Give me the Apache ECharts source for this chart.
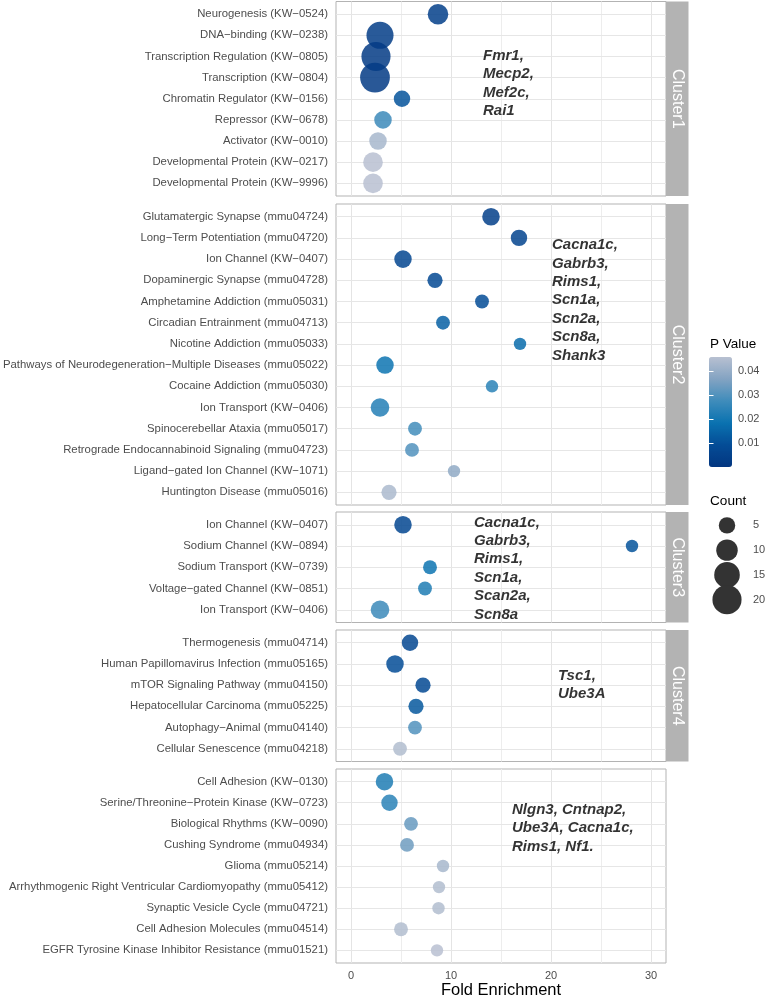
<!DOCTYPE html>
<html>
<head>
<meta charset="utf-8">
<script src="https://cdn.jsdelivr.net/npm/echarts@6/dist/echarts.min.js"></script>
<style>html,body{margin:0;padding:0;background:#fff}#chart{width:765px;height:996px}</style>
</head>
<body>
<div id="chart"></div>
<script>
// ---------------- DATA ----------------
const cluster1Terms = ['Neurogenesis (KW−0524)', 'DNA−binding (KW−0238)', 'Transcription Regulation (KW−0805)', 'Transcription (KW−0804)', 'Chromatin Regulator (KW−0156)', 'Repressor (KW−0678)', 'Activator (KW−0010)', 'Developmental Protein (KW−0217)', 'Developmental Protein (KW−9996)'];
const cluster1Fold  = [8.7, 2.9, 2.5, 2.4, 5.1, 3.2, 2.7, 2.2, 2.2];
const cluster1Count = [9, 17, 20, 21, 5, 6, 6, 8, 8];
const cluster1P     = [0.004, 0.003, 0.002, 0.002, 0.011, 0.027, 0.043, 0.046, 0.046];
const cluster1Genes = 'Fmr1,\nMecp2,\nMef2c,\nRai1';

const cluster2Terms = ['Glutamatergic Synapse (mmu04724)', 'Long−Term Potentiation (mmu04720)', 'Ion Channel (KW−0407)', 'Dopaminergic Synapse (mmu04728)', 'Amphetamine Addiction (mmu05031)', 'Circadian Entrainment (mmu04713)', 'Nicotine Addiction (mmu05033)', 'Pathways of Neurodegeneration−Multiple Diseases (mmu05022)', 'Cocaine Addiction (mmu05030)', 'Ion Transport (KW−0406)', 'Spinocerebellar Ataxia (mmu05017)', 'Retrograde Endocannabinoid Signaling (mmu04723)', 'Ligand−gated Ion Channel (KW−1071)', 'Huntington Disease (mmu05016)'];
const cluster2Fold  = [14.0, 16.8, 5.2, 8.4, 13.1, 9.2, 16.9, 3.4, 14.1, 2.9, 6.4, 6.1, 10.3, 3.8];
const cluster2Count = [6, 5, 6, 4, 3, 3, 2, 6, 2, 7, 3, 3, 2, 4];
const cluster2P     = [0.004, 0.006, 0.007, 0.008, 0.009, 0.014, 0.017, 0.019, 0.024, 0.023, 0.028, 0.030, 0.039, 0.044];
const cluster2Genes = 'Cacna1c,\nGabrb3,\nRims1,\nScn1a,\nScn2a,\nScn8a,\nShank3';

const cluster3Terms = ['Ion Channel (KW−0407)', 'Sodium Channel (KW−0894)', 'Sodium Transport (KW−0739)', 'Voltage−gated Channel (KW−0851)', 'Ion Transport (KW−0406)'];
const cluster3Fold  = [5.2, 28.1, 7.9, 7.4, 2.9];
const cluster3Count = [6, 2, 3, 3, 7];
const cluster3P     = [0.007, 0.011, 0.019, 0.022, 0.027];
const cluster3Genes = 'Cacna1c,\nGabrb3,\nRims1,\nScn1a,\nScan2a,\nScn8a';

const cluster4Terms = ['Thermogenesis (mmu04714)', 'Human Papillomavirus Infection (mmu05165)', 'mTOR Signaling Pathway (mmu04150)', 'Hepatocellular Carcinoma (mmu05225)', 'Autophagy−Animal (mmu04140)', 'Cellular Senescence (mmu04218)'];
const cluster4Fold  = [5.9, 4.4, 7.2, 6.5, 6.4, 4.9];
const cluster4Count = [5, 6, 4, 4, 3, 3];
const cluster4P     = [0.007, 0.009, 0.008, 0.012, 0.030, 0.045];
const cluster4Genes = 'Tsc1,\nUbe3A';

const cluster5Terms = ['Cell Adhesion (KW−0130)', 'Serine/Threonine−Protein Kinase (KW−0723)', 'Biological Rhythms (KW−0090)', 'Cushing Syndrome (mmu04934)', 'Glioma (mmu05214)', 'Arrhythmogenic Right Ventricular Cardiomyopathy (mmu05412)', 'Synaptic Vesicle Cycle (mmu04721)', 'Cell Adhesion Molecules (mmu04514)', 'EGFR Tyrosine Kinase Inhibitor Resistance (mmu01521)'];
const cluster5Fold  = [3.35, 3.85, 6.0, 5.6, 9.2, 8.8, 8.75, 5.0, 8.6];
const cluster5Count = [6, 5, 3, 3, 2, 2, 2, 3, 2];
const cluster5P     = [0.022, 0.024, 0.033, 0.034, 0.043, 0.045, 0.045, 0.045, 0.046];
const cluster5Genes = 'Nlgn3, Cntnap2,\nUbe3A, Cacna1c,\nRims1, Nf1.';

const stripLabels  = ['Cluster1', 'Cluster2', 'Cluster3', 'Cluster4', ''];
const xTickValues  = [0, 10, 20, 30];
const xGridValues  = [0, 5, 10, 15, 20, 25, 30];
const pTickValues  = [0.01, 0.02, 0.03, 0.04];
const countLegend  = [5, 10, 15, 20];
const xTitle = 'Fold Enrichment';
const pTitle = 'P Value';
const countTitle = 'Count';

// ---------------- LAYOUT / STYLE ----------------
const FONT = "'Liberation Sans', Arial, Helvetica, sans-serif";
const panels = [
  {terms: cluster1Terms, fold: cluster1Fold, count: cluster1Count, p: cluster1P, genes: cluster1Genes},
  {terms: cluster2Terms, fold: cluster2Fold, count: cluster2Count, p: cluster2P, genes: cluster2Genes},
  {terms: cluster3Terms, fold: cluster3Fold, count: cluster3Count, p: cluster3P, genes: cluster3Genes},
  {terms: cluster4Terms, fold: cluster4Fold, count: cluster4Count, p: cluster4P, genes: cluster4Genes},
  {terms: cluster5Terms, fold: cluster5Fold, count: cluster5Count, p: cluster5P, genes: cluster5Genes}
];
const L = { left: 336, width: 330, tops: [1.5, 204, 512, 630, 769], heights: [194.5, 301, 110.5, 131.5, 194], stripW: 22.5 };
const notePos = [[13.2, 3.27], [20.1, 3.94], [12.3, 2.06], [20.7, 2.0], [16.1, 2.2]];
const sizeOf = c => Math.sqrt(77 + 38.5 * c);
const GRID_COLOR = '#B3B3B3';

const grid = [], xAxis = [], yAxis = [], series = [], graphic = [];
panels.forEach((pn, k) => {
  const n = pn.terms.length;
  const idx = pn.terms.map((_, i) => i);
  const last = k === panels.length - 1;
  grid.push({left: L.left, top: L.tops[k], width: L.width, height: L.heights[k], show: true,
    outerBoundsMode: 'none', containLabel: false,
    borderColor: GRID_COLOR, borderWidth: 1, backgroundColor: '#fff'});
  xAxis.push({gridIndex: k, type: 'value', min: -1.5, max: 31.5,
    axisLine: {show: false}, splitLine: {show: false},
    axisTick: {show: last, customValues: xTickValues, length: 4, lineStyle: {color: GRID_COLOR}},
    axisLabel: {show: last, customValues: xTickValues, color: '#4D4D4D', fontSize: 11, margin: 7, fontFamily: FONT},
    name: last ? xTitle : '', nameLocation: 'middle', nameGap: 18,
    nameTextStyle: {fontSize: 16.5, color: '#000', fontFamily: FONT}});
  yAxis.push({gridIndex: k, type: 'value', inverse: true, min: -0.6, max: n - 0.4,
    axisLine: {show: false}, splitLine: {show: false},
    axisTick: {show: true, customValues: idx, length: 4, lineStyle: {color: GRID_COLOR}},
    axisLabel: {customValues: idx, formatter: v => pn.terms[Math.round(v)], color: '#4D4D4D',
      fontSize: 11.35, fontFamily: FONT, margin: 8}});
});
// colorbar grid (5) and count legend grid (6)
grid.push({left: 709, top: 357, width: 23, height: 110, show: false, outerBoundsMode: 'none', containLabel: false});
grid.push({left: 708, top: 513, width: 38, height: 99, show: false, outerBoundsMode: 'none', containLabel: false});
xAxis.push({gridIndex: 5, type: 'value', min: 0, max: 1, show: false});
xAxis.push({gridIndex: 6, type: 'value', min: 0, max: 1, show: false});
yAxis.push({gridIndex: 5, type: 'value', position: 'right', min: 0, max: 0.046, z: 10,
  axisLine: {show: false}, splitLine: {show: false},
  axisTick: {inside: true, length: 4.5, customValues: pTickValues, lineStyle: {color: '#fff', width: 1}},
  axisLabel: {customValues: pTickValues, color: '#4D4D4D', fontSize: 11, margin: 6, fontFamily: FONT, formatter: v => v.toFixed(2)}});
yAxis.push({gridIndex: 5, type: 'value', position: 'left', min: 0, max: 0.046, z: 10,
  axisLine: {show: false}, splitLine: {show: false},
  axisTick: {inside: true, length: 4.5, customValues: pTickValues, lineStyle: {color: '#fff', width: 1}},
  axisLabel: {show: false}});
yAxis.push({gridIndex: 6, type: 'category', inverse: true, position: 'right', data: countLegend.map(String),
  axisLine: {show: false}, axisTick: {show: false}, splitLine: {show: false},
  axisLabel: {color: '#4D4D4D', fontSize: 11, margin: 7, fontFamily: FONT}});

// data series
panels.forEach((pn, k) => {
  const idx = pn.terms.map((_, i) => i);
  series.push({type: 'scatter', xAxisIndex: k, yAxisIndex: k, z: 3,
    data: pn.terms.map((t, i) => [pn.fold[i], i, pn.count[i], pn.p[i], t]),
    symbolSize: d => sizeOf(d[2]),
    itemStyle: {opacity: 0.85},
    emphasis: {disabled: true},
    markLine: {silent: true, symbol: 'none', z: 1, animation: false, label: {show: false},
      emphasis: {disabled: true},
      lineStyle: {color: '#E6E6E6', width: 1, type: 'solid'},
      data: xGridValues.map(v => ({xAxis: v, lineStyle: {color: v % 10 === 0 ? '#E4E4E4' : '#EDEDED', width: 1, type: 'solid'}}))
        .concat(idx.map(i => ({yAxis: i})))}
  });
});
panels.forEach((pn, k) => {
  series.push({type: 'scatter', xAxisIndex: k, yAxisIndex: k, z: 4, silent: true,
    data: [notePos[k]], symbolSize: 0.01, itemStyle: {color: 'rgba(0,0,0,0)'},
    label: {show: true, position: 'right', distance: 0, formatter: pn.genes,
      fontSize: 15, fontWeight: 'bold', fontStyle: 'italic', color: '#000', lineHeight: 18.4, fontFamily: FONT}});
});
series.push({type: 'scatter', xAxisIndex: 5, yAxisIndex: 5, data: []});
series.push({type: 'scatter', xAxisIndex: 6, yAxisIndex: 7, silent: true,
  data: countLegend.map(c => [0.5, String(c), c]),
  symbolSize: d => sizeOf(d[2]), itemStyle: {color: '#333333', opacity: 1}});

// strips & legend titles
panels.forEach((pn, k) => {
  if (!stripLabels[k]) return;
  const top = L.tops[k], h = L.heights[k], x0 = L.left + L.width;
  graphic.push({type: 'rect', shape: {x: x0, y: top, width: L.stripW, height: h}, style: {fill: GRID_COLOR}, z: 5});
  graphic.push({type: 'text', x: x0 + L.stripW / 2, y: top + h / 2, rotation: -Math.PI / 2, z: 6,
    style: {text: stripLabels[k], fill: '#fff', fontSize: 16, fontFamily: FONT, align: 'center', verticalAlign: 'middle'}});
});
graphic.push({type: 'text', x: 710, y: 344, style: {text: pTitle, fill: '#000', fontSize: 13.5, fontFamily: FONT, align: 'left', verticalAlign: 'middle'}});
graphic.push({type: 'text', x: 710, y: 501.5, style: {text: countTitle, fill: '#000', fontSize: 13.6, fontFamily: FONT, align: 'left', verticalAlign: 'middle'}});

const option = {
  animation: false,
  backgroundColor: '#fff',
  textStyle: {fontFamily: FONT},
  grid, xAxis, yAxis, series, graphic,
  visualMap: {type: 'continuous', seriesIndex: [0, 1, 2, 3, 4], dimension: 3, min: 0, max: 0.046,
    inRange: {color: ['#033680', '#044C96', '#0A72B0', '#3F8CBB', '#83A3C2', '#B8C0D1']},
    left: 709, top: 357, itemWidth: 23, itemHeight: 110, calculable: false, padding: 0,
    orient: 'vertical', hoverLink: false}
};
const chart = echarts.init(document.getElementById('chart'), null, {renderer: 'canvas'});
chart.setOption(option);
</script>
</body>
</html>
